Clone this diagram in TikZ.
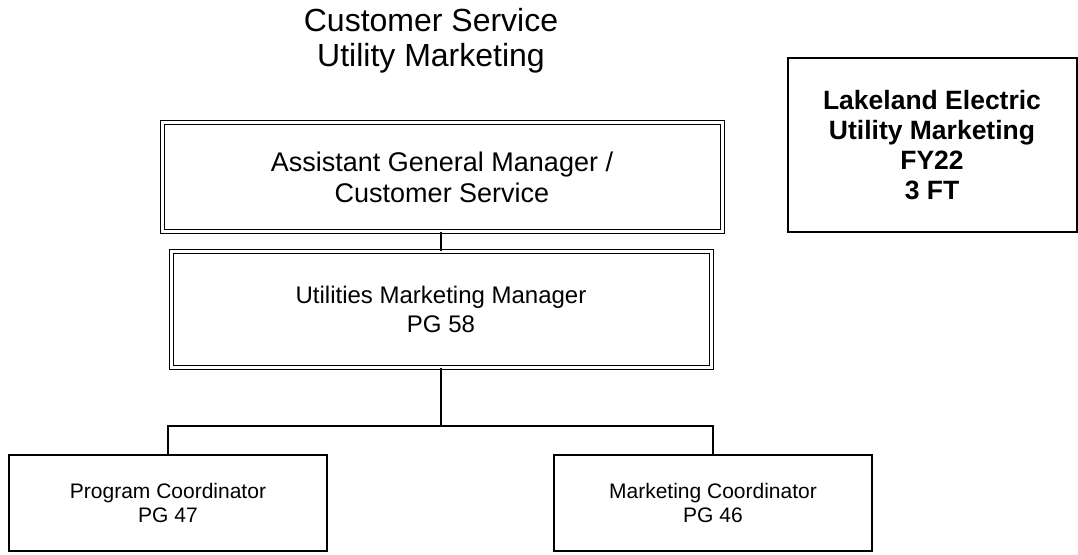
\documentclass[tikz,border=0pt]{standalone}
\usepackage{fontspec}
\setmainfont{Liberation Sans}
\begin{document}
\begin{tikzpicture}[x=1pt,y=-1pt,
  dbox/.style={draw, double, double distance=3pt, line width=1pt, inner sep=0pt, align=center},
  sbox/.style={draw, line width=1.5pt, inner sep=0pt, align=center},
  conn/.style={line width=1.5pt}]
\useasboundingbox (0,0) rectangle (1078,554);
\node[align=center, font=\fontsize{32}{35}\selectfont] (title) at (431,41) {Customer Service\\Utility Marketing};
\node[dbox, minimum width=560pt, minimum height=108.5pt, font=\fontsize{27}{31}\selectfont] (agm) at (442,177) {Assistant General Manager /\\Customer Service};
\node[dbox, minimum width=540pt, minimum height=116pt, font=\fontsize{24}{29}\selectfont] (umm) at (441,309.5) {Utilities Marketing Manager\\PG 58};
\node[sbox, minimum width=318pt, minimum height=96pt, font=\fontsize{21}{24}\selectfont] (pc) at (168,503) {Program Coordinator\\PG 47};
\node[sbox, minimum width=318pt, minimum height=96pt, font=\fontsize{21}{24}\selectfont] (mc) at (713,503) {Marketing Coordinator\\PG 46};
\node[draw, line width=2pt, inner sep=0pt, align=center, minimum width=289pt, minimum height=174pt, font=\bfseries\fontsize{26.5}{30}\selectfont] (le) at (932,145) {Lakeland Electric\\Utility Marketing\\FY22\\3 FT};
\coordinate (bus) at (441,426);
\draw[conn] (agm.south -| umm.north) -- (umm.north);
\draw[conn] (umm.south) -- (bus);
\draw[conn] (pc.north) |- (bus) -| (mc.north);
\end{tikzpicture}
\end{document}
